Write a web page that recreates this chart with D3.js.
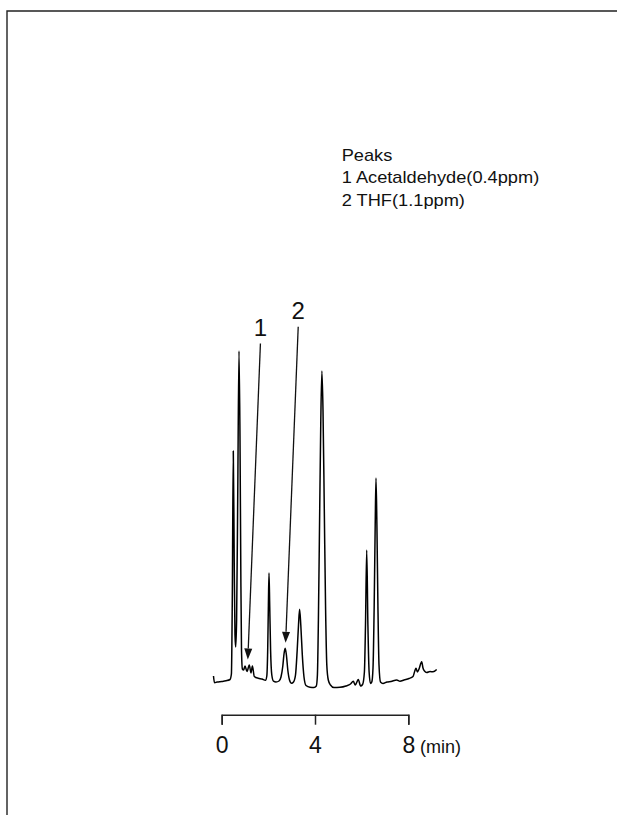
<!DOCTYPE html>
<html>
<head>
<meta charset="utf-8">
<script src="https://cdn.jsdelivr.net/npm/d3@7"></script>
<style>
  html, body { margin: 0; padding: 0; background: #fff; }
  svg { display: block; }
</style>
</head>
<body>
<svg id="chart" width="617" height="815"></svg>
<script>
// Chromatogram trace: retention time (min) and detector response (arbitrary units)
const traceTime = [
  -0.352, -0.309, -0.201, 0.000, 0.184, 0.356, 0.416, 0.454, 0.497, 0.536,
  0.570, 0.600, 0.639, 0.686, 0.742, 0.785, 0.819, 0.849, 0.887, 0.939,
  0.999, 1.085, 1.183, 1.256, 1.316, 1.398, 1.569, 1.728, 1.878, 1.934,
  1.972, 2.002, 2.028, 2.058, 2.096, 2.148, 2.221, 2.328, 2.457, 2.542,
  2.620, 2.671, 2.722, 2.774, 2.834, 2.907, 2.993, 3.078, 3.164, 3.237,
  3.293, 3.340, 3.391, 3.456, 3.528, 3.614, 3.786, 3.957, 4.056, 4.103,
  4.146, 4.197, 4.249, 4.296, 4.343, 4.399, 4.455, 4.506, 4.570, 4.664,
  4.813, 5.070, 5.328, 5.522, 5.642, 5.727, 5.856, 5.955, 6.040, 6.118,
  6.165, 6.217, 6.268, 6.320, 6.379, 6.435, 6.487, 6.538, 6.581, 6.615,
  6.654, 6.697, 6.744, 6.808, 6.915, 7.087, 7.258, 7.503, 7.644, 7.816,
  8.030, 8.202, 8.279, 8.330, 8.390, 8.459, 8.574, 8.630, 8.694, 8.789,
  8.930, 9.059, 9.218
];
const traceSignal = [
  14, 7.2, 8, 8.5, 9.2, 10.5, 16, 90, 239, 130,
  55, 43, 70, 190, 339, 250, 120, 40, 21, 20,
  24, 18.5, 25, 17, 24, 13.5, 11.7, 11, 9.7, 14,
  40, 85, 117, 85, 40, 15, 8.8, 8, 9, 13,
  24, 36, 41.7, 35, 20, 10, 6.7, 8, 15, 40,
  65, 80.7, 65, 35, 13, 4.5, 2.7, 2.5, 4, 15,
  70, 170, 270, 319, 280, 180, 80, 25, 10, 5,
  2.5, 2.7, 4, 6, 8.7, 5, 10.5, 4, 5.5, 18,
  65, 140, 65, 18, 6.5, 8, 22, 85, 165, 212,
  165, 85, 25, 8, 6.5, 8, 8.5, 10, 8.7, 10,
  11.5, 13.5, 19, 21.7, 18, 21, 28.3, 22, 19, 17.5,
  18.5, 18.2, 20.5
];

// Identified peaks
const peakIds = ["1", "2"];
const peakTimes = [1.12, 2.74];
const peakNames = ["Acetaldehyde(0.4ppm)", "THF(1.1ppm)"];

// Time axis
const axisTicks = [0, 4, 8];
const axisUnit = "(min)";
const legendTitle = "Peaks";

const svg = d3.select("#chart");
const ink = "#111";
const font = "Liberation Sans, Arial, sans-serif";

const x = d3.scaleLinear().domain([0, 8]).range([221.7, 408.3]);
const y = d3.scaleLinear().domain([0, 340]).range([690, 350]);

// outer frame (top and left edges)
svg.append("path")
  .attr("d", "M7,815V11H617")
  .attr("fill", "none")
  .attr("stroke", "#222")
  .attr("stroke-width", 1.4);

// trace
const pts = traceTime.map((t, i) => [t, traceSignal[i]]);
const line = d3.line()
  .x(d => x(d[0]))
  .y(d => y(d[1]))
  .curve(d3.curveMonotoneX);

svg.append("path")
  .datum(pts)
  .attr("d", line)
  .attr("fill", "none")
  .attr("stroke", "#000")
  .attr("stroke-width", 1.5)
  .attr("stroke-linejoin", "round");

// peak arrows and numbers
const arrowRise = 316, arrowLean = 12.6, headLen = 11, headHalf = 4;
peakIds.forEach((id, i) => {
  const t = peakTimes[i];
  const near = pts.filter(p => Math.abs(p[0] - t) < 0.2);
  const apex = d3.max(near, p => p[1]);
  const tipX = x(t), tipY = y(apex) - 5.5;
  const topX = tipX + arrowLean, topY = tipY - arrowRise;
  const dx = tipX - topX, dy = tipY - topY;
  const len = Math.hypot(dx, dy);
  const ux = dx / len, uy = dy / len;
  const bx = tipX - ux * headLen, by = tipY - uy * headLen;

  svg.append("line")
    .attr("x1", topX).attr("y1", topY)
    .attr("x2", bx).attr("y2", by)
    .attr("stroke", ink).attr("stroke-width", 1.3);

  svg.append("path")
    .attr("d", `M${tipX},${tipY}L${bx - uy * headHalf},${by + ux * headHalf}L${bx + uy * headHalf},${by - ux * headHalf}Z`)
    .attr("fill", ink);

  svg.append("text")
    .attr("x", topX)
    .attr("y", topY - 7.5)
    .attr("text-anchor", "middle")
    .attr("font-family", font)
    .attr("font-size", 24)
    .attr("fill", ink)
    .text(id);
});

// time axis
const axisY = 714.7;
const axis = d3.axisBottom(x)
  .tickValues(axisTicks)
  .tickSize(10)
  .tickSizeOuter(10)
  .tickFormat(d3.format("d"));

const gAxis = svg.append("g")
  .attr("transform", `translate(0,${axisY})`)
  .call(axis);

gAxis.select(".domain").attr("stroke", "#222").attr("stroke-width", 1.5);
gAxis.selectAll(".tick line").attr("stroke", "#222").attr("stroke-width", 1.5);
gAxis.selectAll(".tick text")
  .attr("y", 38.6)
  .attr("dy", null)
  .attr("fill", ink)
  .attr("font-family", font)
  .attr("font-size", 23);

svg.append("text")
  .attr("x", 420)
  .attr("y", 753.3)
  .attr("font-family", font)
  .attr("font-size", 18)
  .attr("fill", ink)
  .text(axisUnit);

// legend (set slightly wide)
const legendLines = [legendTitle].concat(peakIds.map((id, i) => `${id} ${peakNames[i]}`));
svg.append("g")
  .attr("transform", "translate(341.7,0) scale(1.14,1)")
  .selectAll("text")
  .data(legendLines)
  .join("text")
  .attr("x", 0)
  .attr("y", (d, i) => 161 + i * 22.5)
  .attr("font-family", font)
  .attr("font-size", 16)
  .attr("fill", ink)
  .text(d => d);
</script>
</body>
</html>
